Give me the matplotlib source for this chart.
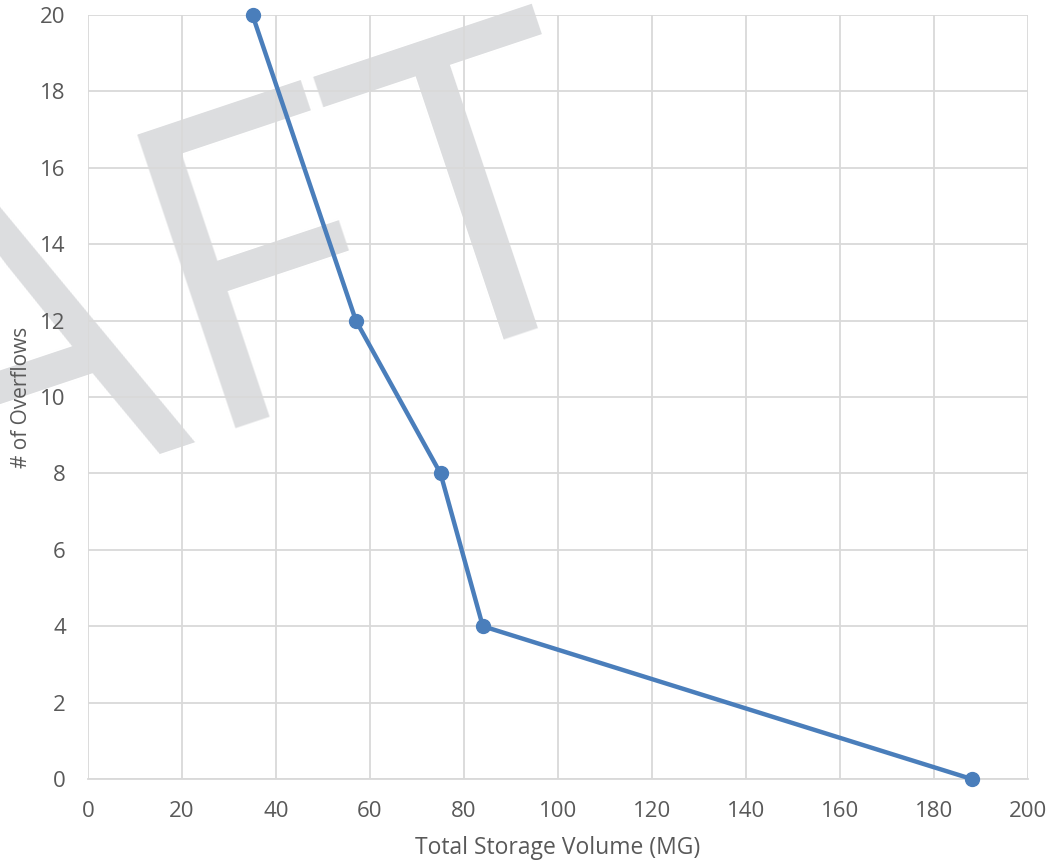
import matplotlib
matplotlib.use("Agg")
import matplotlib.pyplot as plt
from matplotlib.font_manager import FontProperties

storage_mg = [35, 57, 75, 84, 188]
overflows = [20, 12, 8, 4, 0]
x_ticks = [0, 20, 40, 60, 80, 100, 120, 140, 160, 180, 200]
y_ticks = [0, 2, 4, 6, 8, 10, 12, 14, 16, 18, 20]

plt.rcParams['font.family'] = ['Open Sans', 'DejaVu Sans']

fig = plt.figure(figsize=(10.5, 8.64), dpi=100)
ax = fig.add_axes([88/1050, 1-779/864, (1028-88)/1050, (779-15)/864])
ax.set_zorder(1)
ax.patch.set_alpha(0)

# Watermark
wm_font = FontProperties(family='Open Sans', stretch='normal', weight=400, size=312)
fig.text(633/1050, 1-282/864, "DRAFT", fontproperties=wm_font, color='#dcdddf',
         rotation=18.5, rotation_mode='anchor', ha='right', va='baseline', zorder=-1)

ax.plot(storage_mg, overflows, color='#4a7ebb', lw=3.2, marker='o', ms=10, zorder=5,
        clip_on=False)

ax.set_xlim(0, 200)
ax.set_ylim(0, 20)
ax.set_xticks(x_ticks)
ax.set_yticks(y_ticks)
ax.grid(True, color='#d9d9d9', lw=1.3)
ax.set_axisbelow(True)
for s in ax.spines.values():
    s.set_visible(False)
ax.spines['bottom'].set_visible(True)
ax.spines['bottom'].set_color('#d9d9d9')
ax.spines['bottom'].set_linewidth(1.3)
ax.tick_params(length=0, labelsize=16, labelcolor='#595959')
ax.tick_params(axis='x', pad=16)
ax.tick_params(axis='y', pad=16)
ax.set_xlabel("Total Storage Volume (MG)", fontsize=16.5, color='#595959', labelpad=10)
ax.set_ylabel("# of Overflows", fontsize=15, color='#595959', labelpad=6)

fig.savefig("out.png", dpi=100)
